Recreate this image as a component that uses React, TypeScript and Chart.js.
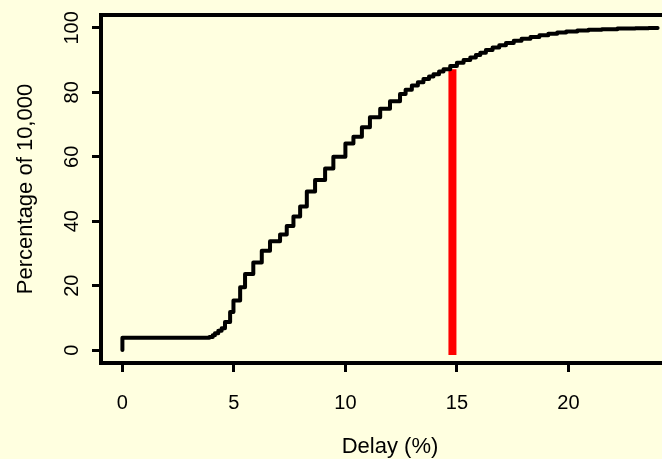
import React, { useEffect, useRef } from "react";
import { Chart, registerables } from "chart.js";

Chart.register(...registerables);

// Step points of the cumulative curve (delay %, percentage of 10,000)
const delayX = [
  0, 0, 3.9, 4.05, 4.15, 4.3, 4.45, 4.6, 4.83, 4.98, 5.28, 5.5, 5.87, 6.25, 6.62,
  7.07, 7.37, 7.67, 7.97, 8.27, 8.64, 9.09, 9.46, 10.0, 10.36, 10.74, 11.1, 11.56,
  12.0, 12.45, 12.7, 12.98, 13.25, 13.5, 13.75, 13.95, 14.2, 14.4, 14.7, 15.0, 15.3,
  15.6, 15.85, 16.05, 16.3, 16.6, 16.9, 17.2, 17.55, 17.9, 18.3, 18.7, 19.1, 19.5,
  19.9, 20.4, 20.9, 21.5, 22.2, 23.0, 23.6, 24.0,
];
const cumPct = [
  0, 3.8, 4.1, 4.6, 5.2, 6.0, 6.8, 8.7, 11.8, 15.4, 19.5, 23.6, 27.2, 30.8, 33.8,
  35.9, 38.5, 41.5, 44.6, 49.2, 52.8, 56.4, 60.0, 64.1, 66.2, 69.2, 72.3, 74.9,
  77.2, 79.5, 80.8, 82.1, 83.1, 84.1, 84.9, 85.6, 86.5, 87.2, 88.2, 89.2, 90.0,
  90.8, 91.6, 92.3, 93.1, 93.9, 94.6, 95.3, 96.0, 96.6, 97.2, 97.7, 98.2, 98.6,
  98.9, 99.2, 99.4, 99.6, 99.8, 99.9, 100, 100,
];

// Red marker line
const markerX = 14.8;
const markerY = [-1.5, 87.2];

// Axes
const xTickValues = [0, 5, 10, 15, 20];
const yTickValues = [0, 20, 40, 60, 80, 100];
const xRange = [-0.96, 24.96];
const yRange = [-4, 104];

const xTitle = "Delay (%)";
const yTitle = "Percentage of 10,000";

const BG = "#FFFFE0";
const FONT = "'Liberation Sans', Arial, Helvetica, sans-serif";
const W = 680;
const H = 459;

export default function App() {
  const ref = useRef<HTMLCanvasElement>(null);

  useEffect(() => {
    const boxPlugin = {
      id: "rbox",
      beforeDraw(chart: any) {
        const { ctx } = chart;
        ctx.save();
        ctx.fillStyle = BG;
        ctx.fillRect(0, 0, chart.width, chart.height);
        ctx.restore();
      },
      afterDraw(chart: any) {
        const { ctx, chartArea: a } = chart;
        ctx.save();
        ctx.strokeStyle = "#000";
        ctx.lineWidth = 4;
        ctx.strokeRect(a.left, a.top, a.right - a.left, a.bottom - a.top);
        ctx.restore();
      },
    };

    const chart = new Chart(ref.current as HTMLCanvasElement, {
      type: "line",
      data: {
        datasets: [
          {
            label: "cumulative",
            data: delayX.map((x, i) => ({ x, y: cumPct[i] })),
            borderColor: "#000000",
            borderWidth: 4,
            stepped: true,
            pointRadius: 0,
            fill: false,
            order: 0,
            borderCapStyle: "round",
            borderJoinStyle: "round",
          } as any,
          {
            label: "marker",
            data: markerY.map((y) => ({ x: markerX, y })),
            borderColor: "#FF0000",
            borderWidth: 8,
            pointRadius: 0,
            fill: false,
            order: 1,
            borderCapStyle: "butt",
          } as any,
        ],
      },
      options: {
        responsive: false,
        animation: false,
        events: [],
        layout: { padding: { top: 13, right: W - 679, left: 0, bottom: 0 } },
        plugins: { legend: { display: false }, tooltip: { enabled: false } },
        scales: {
          x: {
            type: "linear",
            min: xRange[0],
            max: xRange[1],
            afterBuildTicks: (s: any) => {
              s.ticks = xTickValues.map((v) => ({ value: v }));
            },
            afterFit: (s: any) => {
              s.height = 96;
            },
            grid: {
              display: true,
              drawOnChartArea: false,
              drawTicks: true,
              tickLength: 9,
              tickWidth: 3,
              tickColor: "#000",
            },
            border: { display: false },
            ticks: {
              color: "#000",
              font: { family: FONT, size: 20 },
              padding: 19,
              maxRotation: 0,
              minRotation: 0,
              autoSkip: false,
              callback: (v: any) => String(v),
            },
            title: {
              display: true,
              text: xTitle,
              color: "#000",
              font: { family: FONT, size: 22, lineHeight: 1 },
              padding: { top: 0, bottom: 1 },
            },
          },
          y: {
            type: "linear",
            min: yRange[0],
            max: yRange[1],
            afterBuildTicks: (s: any) => {
              s.ticks = yTickValues.map((v) => ({ value: v }));
            },
            afterFit: (s: any) => {
              s.width = 101;
            },
            grid: {
              display: true,
              drawOnChartArea: false,
              drawTicks: true,
              tickLength: 9,
              tickWidth: 3,
              tickColor: "#000",
            },
            border: { display: false },
            ticks: {
              color: "#000",
              font: { family: FONT, size: 20 },
              padding: 3,
              minRotation: 90,
              maxRotation: 90,
              crossAlign: "center",
              autoSkip: false,
              callback: (v: any) => String(v),
            },
            title: {
              display: true,
              text: yTitle,
              color: "#000",
              font: { family: FONT, size: 22, lineHeight: 1 },
              padding: { top: 15, bottom: 0 },
            },
          },
        },
      } as any,
      plugins: [boxPlugin],
    });

    return () => chart.destroy();
  }, []);

  return (
    <div
      style={{
        position: "fixed",
        left: 0,
        top: 0,
        width: 662,
        height: 459,
        overflow: "hidden",
        background: BG,
      }}
    >
      <canvas ref={ref} width={W} height={H} style={{ display: "block", width: W, height: H }} />
    </div>
  );
}
